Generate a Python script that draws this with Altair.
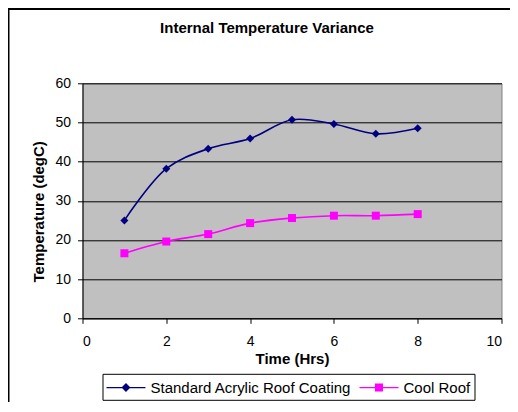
import altair as alt
import pandas as pd

# ---- data ----
hours = [1, 2, 3, 4, 5, 6, 7, 8]
standard_temp = [25.0, 38.2, 43.3, 45.9, 50.7, 49.6, 47.1, 48.5]
cool_temp = [16.6, 19.6, 21.5, 24.3, 25.6, 26.2, 26.2, 26.6]
series_names = ["Standard Acrylic Roof Coating", "Cool Roof"]
series_colors = ["#000080", "#FF00FF"]
x_ticks = [0, 2, 4, 6, 8, 10]
y_ticks = [0, 10, 20, 30, 40, 50, 60]

df = pd.DataFrame({
    "Time": hours + hours,
    "Temp": standard_temp + cool_temp,
    "Series": [series_names[0]] * len(hours) + [series_names[1]] * len(hours),
})

FONT = "Liberation Sans"
W, H = 419, 235

# legend symbols: line with marker (custom paths), nominal box 19px
leg_diamond = "M-1,-0.063H3.1V0.063H-1Z M0.58,0L1.05,-0.47L1.52,0L1.05,0.47Z"
leg_square = "M-1,-0.063H3.1V0.063H-1Z M0.63,-0.42H1.47V0.42H0.63Z"

x_enc = alt.X("Time:Q", scale=alt.Scale(domain=[0, 10], nice=False),
              axis=alt.Axis(values=x_ticks, title="Time (Hrs)", grid=False,
                            tickSize=5, labelPadding=11, titlePadding=3))
y_enc = alt.Y("Temp:Q", scale=alt.Scale(domain=[0, 60], nice=False),
              axis=alt.Axis(values=y_ticks, title="Temperature (degC)", grid=True,
                            tickSize=5, labelPadding=7, labelOverlap=False,
                            titleX=-44.5, titleY=128, titleBaseline="middle",
                            titleAngle=-90, titleAlign="center"))

color_nolegend = alt.Color("Series:N", scale=alt.Scale(domain=series_names, range=series_colors),
                           legend=None)

base = alt.Chart(df).encode(x=x_enc, y=y_enc)

lines = base.mark_line(interpolate="catmull-rom", strokeWidth=1.6).encode(
    color=color_nolegend, detail="Series:N")

points = base.mark_point(filled=True, opacity=1, size=64).encode(
    color=color_nolegend,
    shape=alt.Shape("Series:N", scale=alt.Scale(domain=series_names, range=["diamond", "square"]),
                    legend=None))

legend_props = dict(title=None, orient="none", legendX=20, legendY=290.5,
                    direction="horizontal", symbolSize=361,
                    symbolOpacity=1, symbolStrokeWidth=0,
                    labelOffset=25, columnPadding=8, padding=4, labelLimit=400,
                    strokeColor="black", labelFont=FONT,
                    labelFontSize=15, labelColor="black")

legend_layer = base.mark_point(filled=True, opacity=0).encode(
    color=alt.Color("Series:N", scale=alt.Scale(domain=series_names, range=series_colors),
                    legend=alt.Legend(**legend_props)),
    shape=alt.Shape("Series:N", scale=alt.Scale(domain=series_names, range=[leg_diamond, leg_square]),
                    legend=alt.Legend(**legend_props)))

frame = alt.Chart(alt.Data(values=[{"a": 1}])).mark_rect(
    fill=None, stroke="black", strokeWidth=2).encode(
    x=alt.value(-74), x2=alt.value(W + 40), y=alt.value(-74.3), y2=alt.value(H + 140))

chart = alt.layer(frame, lines, points, legend_layer).resolve_scale(
    color="independent", shape="independent"
).properties(
    width=W, height=H,
    title=alt.TitleParams("Internal Temperature Variance", fontSize=15, font=FONT,
                          fontWeight="bold", color="black", anchor="middle",
                          dx=-25, dy=40, offset=0, baseline="alphabetic"),
    autosize=alt.AutoSizeParams(type="none"),
    padding={"left": 74.5, "top": 75.3, "right": 8, "bottom": 84},
    background="white",
).configure_view(
    fill="#C0C0C0", stroke="#808080", strokeWidth=1
).configure_axis(
    domainColor="black", tickColor="black", gridColor="black", gridWidth=1,
    gridOpacity=1, domainWidth=1, labelFont=FONT, labelFontSize=14,
    labelColor="black", titleFont=FONT, titleFontSize=15, titleFontWeight="bold",
    titleColor="black"
)

chart.save("out.html", embed_options={"renderer": "svg", "actions": False})
